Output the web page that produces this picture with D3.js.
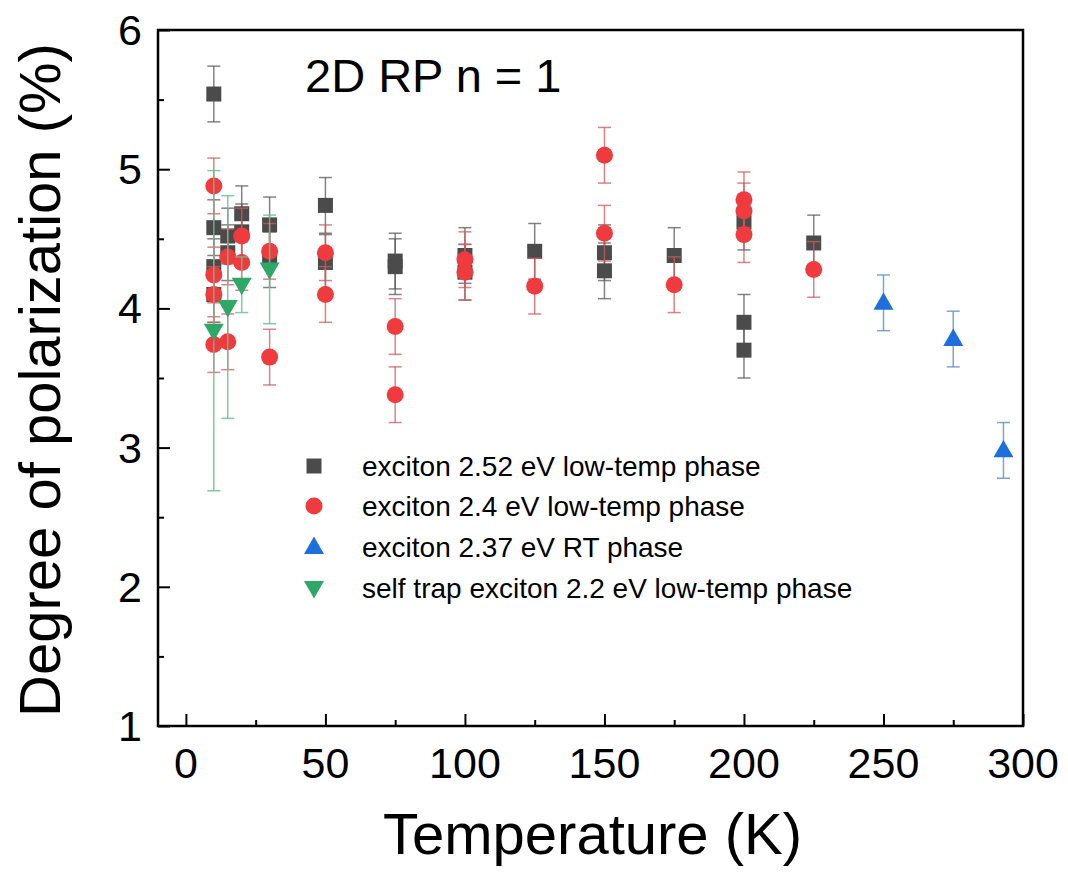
<!DOCTYPE html>
<html>
<head>
<meta charset="utf-8">
<script src="https://cdn.jsdelivr.net/npm/d3@7"></script>
<style>
  html, body { margin: 0; padding: 0; background: #fff; }
  svg { display: block; }
  text { font-family: "Liberation Sans", Arial, sans-serif; fill: #000; }
</style>
</head>
<body>
<svg id="chart" width="1068" height="875"></svg>
<script>
// ---- Data ----
const xTicks = [0, 50, 100, 150, 200, 250, 300];
const yTicks = [1, 2, 3, 4, 5, 6];

// exciton 2.52 eV low-temp phase (squares)
const sqT   = [10, 10, 10, 10, 15, 15, 20, 20, 30, 30, 50, 50, 75, 75, 100, 100, 125, 150, 150, 175, 200, 200, 200, 225];
const sqV   = [5.54, 4.58, 4.30, 4.10, 4.52, 4.40, 4.68, 4.55, 4.60, 4.35, 4.74, 4.33, 4.34, 4.30, 4.38, 4.26, 4.41, 4.40, 4.27, 4.38, 4.62, 3.90, 3.70, 4.47];
const sqErr = [0.2, 0.2, 0.2, 0.2, 0.2, 0.2, 0.2, 0.2, 0.2, 0.2, 0.2, 0.2, 0.2, 0.2, 0.2, 0.2, 0.2, 0.2, 0.2, 0.2, 0.2, 0.2, 0.2, 0.2];

// exciton 2.4 eV low-temp phase (circles)
const ciT   = [10, 10, 10, 10, 15, 15, 20, 20, 30, 30, 50, 50, 75, 75, 100, 100, 125, 150, 150, 175, 200, 200, 200, 225];
const ciV   = [4.88, 4.24, 4.10, 3.74, 4.37, 3.76, 4.52, 4.33, 4.41, 3.65, 4.40, 4.10, 3.87, 3.38, 4.35, 4.26, 4.16, 5.10, 4.54, 4.17, 4.78, 4.70, 4.53, 4.28];
const ciErr = [0.2, 0.2, 0.2, 0.2, 0.2, 0.2, 0.2, 0.2, 0.2, 0.2, 0.2, 0.2, 0.2, 0.2, 0.2, 0.2, 0.2, 0.2, 0.2, 0.2, 0.2, 0.2, 0.2, 0.2];

// exciton 2.37 eV RT phase (up triangles)
const upT   = [250, 275, 293];
const upV   = [4.04, 3.78, 2.98];
const upErr = [0.2, 0.2, 0.2];

// self trap exciton 2.2 eV low-temp phase (down triangles)
const dnT   = [10, 15, 20, 30];
const dnV   = [3.84, 4.01, 4.17, 4.28];
const dnErr = [1.15, 0.80, 0.20, 0.39];

const legendLabels = [
  "exciton 2.52 eV low-temp phase",
  "exciton 2.4 eV low-temp phase",
  "exciton 2.37 eV RT phase",
  "self trap exciton 2.2 eV low-temp phase"
];

// ---- Layout ----
const svg = d3.select("#chart");
const L = 158, R = 1023, T = 30, B = 726;
const x = d3.scaleLinear().domain([-10, 300]).range([L, R]);
const y = d3.scaleLinear().domain([1, 6]).range([B, T]);

const series = [
  { t: sqT, v: sqV, e: sqErr, shape: "square",   fill: "#4b4b4b", err: "rgba(90,90,90,0.75)",    size: 15 },
  { t: ciT, v: ciV, e: ciErr, shape: "circle",   fill: "#ef3b3d", err: "rgba(210,90,90,0.75)",   size: 17 },
  { t: upT, v: upV, e: upErr, shape: "triUp",    fill: "#1c6fdc", err: "rgba(100,150,200,0.85)", size: 20 },
  { t: dnT, v: dnV, e: dnErr, shape: "triDown",  fill: "#2ea866", err: "rgba(110,190,150,0.85)", size: 20 }
];

function markerPath(shape, s) {
  const h = s / 2;
  if (shape === "square") return `M${-h},${-h}H${h}V${h}H${-h}Z`;
  if (shape === "circle") return `M${-h},0A${h},${h} 0 1,0 ${h},0A${h},${h} 0 1,0 ${-h},0Z`;
  const th = s * 0.87;
  if (shape === "triUp") return `M0,${-th*0.6}L${h},${th*0.4}L${-h},${th*0.4}Z`;
  return `M0,${th*0.6}L${h},${-th*0.4}L${-h},${-th*0.4}Z`;
}

// ---- Axes (ticks inside) ----
const gx = svg.append("g").attr("transform", `translate(0,${B})`);
gx.call(d3.axisBottom(x).tickValues(xTicks).tickSize(-12).tickFormat(""));
const gxm = svg.append("g").attr("transform", `translate(0,${B})`);
gxm.call(d3.axisBottom(x).tickValues([25, 75, 125, 175, 225, 275]).tickSize(-6).tickFormat(""));
const gy = svg.append("g").attr("transform", `translate(${L},0)`);
gy.call(d3.axisLeft(y).tickValues(yTicks).tickSize(-12).tickFormat(""));
const gym = svg.append("g").attr("transform", `translate(${L},0)`);
gym.call(d3.axisLeft(y).tickValues([1.5, 2.5, 3.5, 4.5, 5.5]).tickSize(-6).tickFormat(""));
[gx, gxm, gy, gym].forEach(g => {
  g.select(".domain").remove();
  g.selectAll("line").attr("stroke", "#000").attr("stroke-width", 2);
});

// tick labels
svg.append("g").selectAll("text").data(xTicks).join("text")
  .attr("x", d => x(d)).attr("y", B + 52)
  .attr("text-anchor", "middle").attr("font-size", 43).text(d => d);
svg.append("g").selectAll("text").data(yTicks).join("text")
  .attr("x", L - 16).attr("y", d => y(d) + 15)
  .attr("text-anchor", "end").attr("font-size", 43).text(d => d);

// ---- Series ----
series.forEach(s => {
  const pts = s.t.map((t, i) => ({ t, v: s.v[i], e: s.e[i] }));
  const g = svg.append("g");
  const eb = g.append("g").attr("stroke", s.err).attr("stroke-width", 1.5).attr("fill", "none");
  pts.forEach(p => {
    const cx = x(p.t), y1 = y(p.v + p.e), y2 = y(p.v - p.e);
    eb.append("line").attr("x1", cx).attr("x2", cx).attr("y1", y1).attr("y2", y2);
    eb.append("line").attr("x1", cx - 6.5).attr("x2", cx + 6.5).attr("y1", y1).attr("y2", y1);
    eb.append("line").attr("x1", cx - 6.5).attr("x2", cx + 6.5).attr("y1", y2).attr("y2", y2);
  });
  g.append("g").selectAll("path").data(pts).join("path")
    .attr("d", markerPath(s.shape, s.size))
    .attr("transform", p => `translate(${x(p.t)},${y(p.v)})`)
    .attr("fill", s.fill);
});

// ---- Frame ----
svg.append("rect").attr("x", L).attr("y", T).attr("width", R - L).attr("height", B - T)
  .attr("fill", "none").attr("stroke", "#000").attr("stroke-width", 2.5);

// ---- Titles ----
svg.append("text").attr("x", (L + R) / 2 + 2).attr("y", 854)
  .attr("text-anchor", "middle").attr("font-size", 58).text("Temperature (K)");
svg.append("text").attr("transform", `translate(60,${(T + B) / 2 + 2}) rotate(-90)`)
  .attr("text-anchor", "middle").attr("font-size", 58).text("Degree of polarization (%)");
svg.append("text").attr("x", 305).attr("y", 92).attr("font-size", 47).text("2D RP n = 1");

// ---- Legend ----
const lg = svg.append("g");
const rowsY = [466, 506, 547, 588];
series.forEach((s, i) => {
  lg.append("path").attr("d", markerPath(s.shape, s.shape === "circle" ? 17 : (s.shape === "square" ? 15 : 20)))
    .attr("transform", `translate(314,${rowsY[i]})`).attr("fill", s.fill);
  lg.append("text").attr("x", 362).attr("y", rowsY[i] + 10).attr("font-size", 28).text(legendLabels[i]);
});
</script>
</body>
</html>
